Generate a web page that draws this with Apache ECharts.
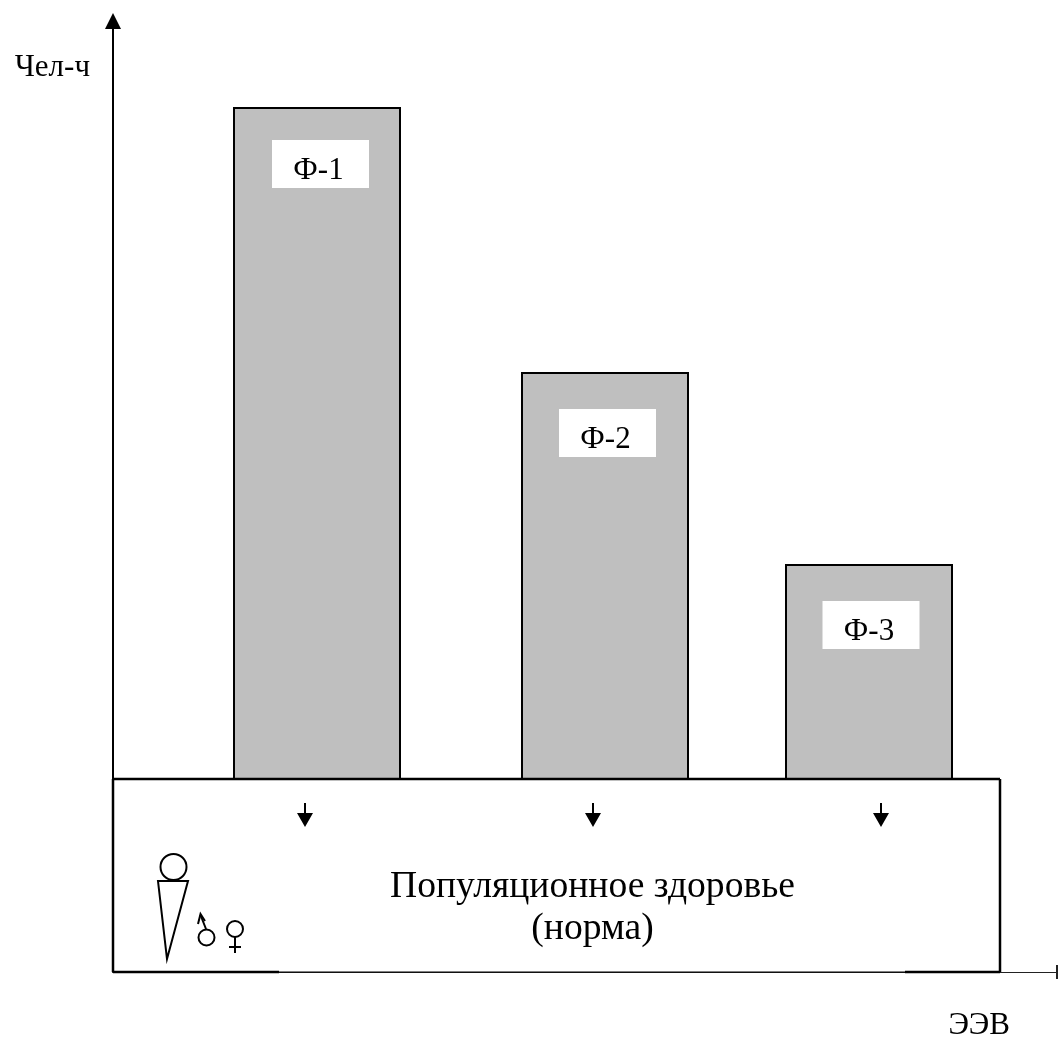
<!DOCTYPE html>
<html><head><meta charset="utf-8">
<style>html,body{margin:0;padding:0;background:#fff}#c{width:1059px;height:1037px}</style>
<script src="https://cdn.jsdelivr.net/npm/echarts@6/dist/echarts.min.js"></script>
</head><body><div id="c"></div>
<script>
const barCategories = ['Ф-1','Ф-2','Ф-3'];
const barPositions = [204,492,756];
const barValues = [865,600,408];
const labelPositions = [207.5,494.5,758];
const labelValues = [808,539,347];
const arrowPositions = [192,480,768];
const arrowValue = 157;
const populationBox = {x0:0,x1:887,y0:0,y1:193,heavyBottom:[[0,166],[792,887]]};
const populationLines = ['Популяционное здоровье','(норма)'];
const serif = '"Liberation Serif","Times New Roman",serif';
const chart = echarts.init(document.getElementById('c'),null,{renderer:'canvas'});
const ink = '#000';
const strokeLine = {stroke:ink,lineWidth:2,fill:'none'};
const labelData = labelPositions.map((x,i)=>({value:[x,labelValues[i]],name:barCategories[i]}));
chart.setOption({
  animation:false,
  backgroundColor:'#fff',
  grid:{left:113,right:2,top:21,bottom:65,outerBoundsMode:'none'},
  xAxis:{type:'value',min:0,max:944,splitLine:{show:false},axisTick:{show:false},axisLabel:{show:false},
    name:'ЭЭВ',nameLocation:'end',nameGap:-47,
    nameTextStyle:{color:'#000',fontFamily:serif,fontSize:31,align:'right',verticalAlign:'top',padding:[38,0,0,0]},
    axisLine:{show:true,onZero:false,lineStyle:{color:'#222',width:1},symbol:['none','rect'],symbolSize:[14,2],symbolOffset:[0,0]}},
  yAxis:{type:'value',min:0,max:951,splitLine:{show:false},axisTick:{show:false},axisLabel:{show:false},
    name:'Чел-ч',nameLocation:'end',nameGap:-62,
    nameTextStyle:{color:'#000',fontFamily:serif,fontSize:31,align:'right',verticalAlign:'bottom',padding:[0,23,0,0]},
    axisLine:{show:true,onZero:false,lineStyle:{color:'#000',width:2},symbol:['none','triangle'],symbolSize:[16,16]}},
  series:[
    {type:'bar',name:'Ф',z:2,barWidth:168,
     data:barPositions.map((x,i)=>[x,barValues[i]]),
     itemStyle:{color:'#bfbfbf',borderColor:'#000',borderWidth:2}},
    {type:'custom',name:'Популяционное здоровье',z:3,silent:true,clip:false,
     data:[[populationBox.x0,populationBox.y0]],
     renderItem:(p,api)=>{
       const b=populationBox;
       const a=api.coord([b.x0,b.y1]), c=api.coord([b.x1,b.y0]);
       const line=(x1,y1,x2,y2,w)=>({type:'line',shape:{x1,y1,x2,y2},style:{stroke:ink,lineWidth:w}});
       const kids=[
         {type:'rect',shape:{x:a[0],y:a[1],width:c[0]-a[0],height:c[1]-a[1]},style:{fill:'#fff'}},
         line(a[0],a[1],c[0],a[1],2.5),line(a[0],a[1],a[0],c[1],2.5),line(c[0],a[1],c[0],c[1],2.5),
         line(a[0],c[1],c[0],c[1],1.2)
       ];
       b.heavyBottom.forEach(s=>{kids.push(line(api.coord([s[0],0])[0],c[1],api.coord([s[1],0])[0],c[1],2.5));});
       return {type:'group',children:kids};
     }},
    {type:'scatter',name:'Фон подписей',z:4,symbolSize:0,silent:true,
     itemStyle:{opacity:1},
     data:labelData,
     label:{show:true,position:'inside',formatter:' ',fontSize:31,opacity:1,
       backgroundColor:'#fff',width:97,height:48,lineHeight:48,align:'center',verticalAlign:'middle'}},
    {type:'scatter',name:'Подписи',z:5,symbolSize:0,silent:true,
     itemStyle:{opacity:1},
     data:labelData,
     label:{show:true,position:'inside',formatter:'{b}',color:'#000',fontFamily:serif,fontSize:31,opacity:1,
       offset:[-2,7],align:'center',verticalAlign:'middle'}},
    {type:'scatter',name:'Стрелки',z:4,silent:true,symbolSize:[16,24],
     symbol:'path://M7 0H9V10H16L8 24L0 10H7Z',
     itemStyle:{color:'#000',opacity:1},
     data:arrowPositions.map(x=>[x,arrowValue])}
  ],
  graphic:[
    {type:'text',z:10,style:{text:populationLines[0],font:'37.6px '+serif,fill:'#000',textAlign:'center',textVerticalAlign:'middle'},position:[592.5,887]},
    {type:'text',z:10,style:{text:populationLines[1],font:'37.6px '+serif,fill:'#000',textAlign:'center',textVerticalAlign:'middle'},position:[592.5,929]},
    {type:'circle',z:10,shape:{cx:173.5,cy:867,r:13},style:strokeLine},
    {type:'polygon',z:10,shape:{points:[[158,881],[188,881],[167,959]]},style:strokeLine},
    {type:'circle',z:10,shape:{cx:206.5,cy:937.5,r:8},style:strokeLine},
    {type:'polyline',z:10,shape:{points:[[206,929],[200.5,915]]},style:strokeLine},
    {type:'polyline',z:10,shape:{points:[[198,924],[200.5,914],[205,921]]},style:strokeLine},
    {type:'circle',z:10,shape:{cx:235,cy:929,r:8},style:strokeLine},
    {type:'polyline',z:10,shape:{points:[[235,937],[235,953]]},style:strokeLine},
    {type:'polyline',z:10,shape:{points:[[229,947],[241,947]]},style:strokeLine}
  ]
});
</script></body></html>
